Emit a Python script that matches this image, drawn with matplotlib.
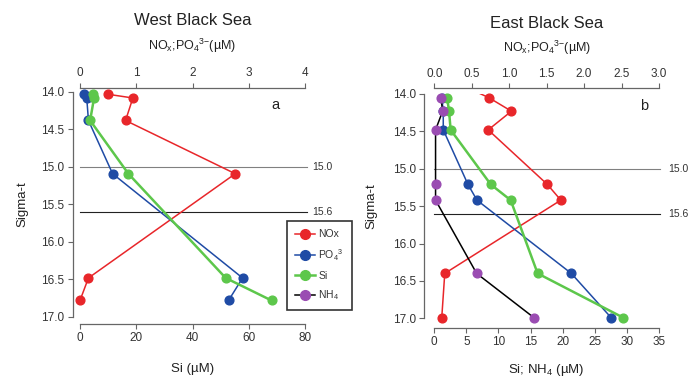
import matplotlib
matplotlib.use("Agg")
import matplotlib.pyplot as plt
from matplotlib.lines import Line2D
from matplotlib.transforms import blended_transform_factory

plt.rcParams['font.family'] = ['Liberation Sans', 'DejaVu Sans']
plt.rcParams['mathtext.fontset'] = 'custom'
plt.rcParams['mathtext.rm'] = 'Liberation Sans'
plt.rcParams['mathtext.it'] = 'Liberation Sans'

# ---- West Black Sea ----
west_sigma = [14.03, 14.08, 14.38, 15.09, 16.48, 16.78]
west_nox = [0.49, 0.94, 0.81, 2.76, 0.15, 0.0]
west_po4 = [0.08, 0.12, 0.15, 0.58, 2.89, 2.64]
west_si = [4.5, 5.0, 3.6, 17.2, 51.8, 68.1]

# ---- East Black Sea ----
east_sigma_nox = [13.85, 14.05, 14.23, 14.48, 15.21, 15.42, 16.40, 16.99]
east_nox = [0.30, 0.73, 1.03, 0.72, 1.51, 1.69, 0.14, 0.10]
east_sigma = [14.05, 14.23, 14.48, 15.21, 15.42, 16.40, 16.99]
east_po4 = [0.10, 0.12, 0.12, 0.45, 0.57, 1.83, 2.36]
east_si = [2.0, 2.3, 2.55, 8.8, 11.9, 16.1, 29.4]
east_nh4 = [1.04, 1.3, 0.2, 0.2, 0.2, 6.6, 15.5]

sigma_ticks = [14.0, 14.5, 15.0, 15.5, 16.0, 16.5, 17.0]
ref_lines = [15.0, 15.6]
ref_labels = ["15.0", "15.6"]
ref_colors = ["#808080", "#222222"]

west_top_ticks = [0, 1, 2, 3, 4]
west_bottom_ticks = [0, 20, 40, 60, 80]
east_top_ticks = [0.0, 0.5, 1.0, 1.5, 2.0, 2.5, 3.0]
east_bottom_ticks = [0, 5, 10, 15, 20, 25, 30, 35]

RED = "#E8262A"
BLUE = "#1F4BA5"
GREEN = "#5DC74B"
PURPLE = "#9A4CB2"
SPINE = "#666666"
TXT = "#333333"
MS = 6.3

fig = plt.figure(figsize=(6.89, 3.81), dpi=100)
fig.patch.set_facecolor("white")


def style_axes(ax, top, yoff, boff, toff):
    ax.spines["right"].set_visible(False)
    ax.spines["top"].set_visible(False)
    for s in ["right", "left", "bottom"]:
        top.spines[s].set_visible(False)
    ax.spines["left"].set_position(("outward", yoff))
    ax.spines["bottom"].set_position(("outward", boff))
    top.spines["top"].set_position(("outward", toff))
    for sp in [ax.spines["left"], ax.spines["bottom"], top.spines["top"]]:
        sp.set_color(SPINE)
        sp.set_linewidth(0.9)
    ax.tick_params(axis="both", direction="out", length=3.5, width=0.8,
                   color=SPINE, labelsize=8.5, labelcolor=TXT, pad=2.5)
    top.tick_params(axis="x", direction="out", length=3.5, width=0.8,
                    color=SPINE, labelsize=8.5, labelcolor=TXT, pad=2.5)
    ax.set_facecolor("none")
    top.set_facecolor("none")


def draw_panel(rect, title, letter, top_ticks, top_fmt, bottom_ticks,
               bottom_label, ylab_x, offs, line_end, lab_x):
    ax = fig.add_axes(rect)
    top = ax.twiny()
    ax.set_ylim(17.0, 14.0)
    ax.set_xlim(bottom_ticks[0], bottom_ticks[-1])
    top.set_xlim(top_ticks[0], top_ticks[-1])
    style_axes(ax, top, *offs)
    ax.set_yticks(sigma_ticks)
    ax.set_yticklabels([f"{v:.1f}" for v in sigma_ticks])
    ax.set_xticks(bottom_ticks)
    ax.set_xticklabels([str(v) for v in bottom_ticks])
    top.set_xticks(top_ticks)
    top.set_xticklabels([top_fmt.format(v) for v in top_ticks])
    ax.spines["left"].set_bounds(14.0, 17.0)
    ax.spines["bottom"].set_bounds(bottom_ticks[0], bottom_ticks[-1])
    top.spines["top"].set_bounds(top_ticks[0], top_ticks[-1])

    ax.set_ylabel("Sigma-t", fontsize=9.5, color="#222222")
    ax.yaxis.set_label_coords(ylab_x, 0.5)
    ax.text(0.5, -0.232, bottom_label, transform=ax.transAxes, ha="center",
            va="center", fontsize=9.5, color="#222222")
    ax.text(0.5, 1.205, r"NO$_\mathrm{x}$;PO$_4$$^{3\mathrm{-}}$(µM)",
            transform=ax.transAxes, ha="center", va="center", fontsize=9,
            color="#222222")
    ax.text(0.5, 1.316, title, transform=ax.transAxes, ha="center",
            va="center", fontsize=12, color="#222222")
    ax.text(letter[1], letter[2], letter[0], transform=ax.transAxes,
            ha="center", va="center", fontsize=10.5, color="#222222")

    trans = blended_transform_factory(ax.transAxes, ax.transData)
    for y, lab, c in zip(ref_lines, ref_labels, ref_colors):
        ax.plot([0, line_end], [y, y], transform=trans, color=c, lw=0.8,
                clip_on=False, zorder=1)
        ax.text(lab_x, y, lab, transform=trans, ha="left", va="center",
                fontsize=7.5, color=TXT)
    return ax, top


def series(target, xs, ys, color, lw, transform=None, line_color=None,
           z=3, skip=0):
    kw = {}
    if transform is not None:
        kw["transform"] = transform
    target.plot(xs, ys, color=line_color or color, lw=lw, zorder=z,
                clip_on=True, **kw)
    target.plot(xs[skip:], ys[skip:], ls="none", marker="o", ms=MS,
                mfc=color, mec=color, zorder=z + 0.5, clip_on=False, **kw)


# West panel
axW, topW = draw_panel([0.1161, 0.168, 0.3266, 0.5906], "West Black Sea",
                       ("a", 0.867, 0.942), west_top_ticks, "{:g}",
                       west_bottom_ticks, "Si (µM)", -0.228, (5.3, 5.0, 3.0),
                       1.01, 1.03)
series(topW, west_nox, west_sigma, RED, 1.1, z=3)
series(topW, west_po4, west_sigma, BLUE, 1.1, z=4)
series(topW, west_si, west_sigma, GREEN, 1.8, transform=axW.transData, z=5)

# East panel
axE, topE = draw_panel([0.6303, 0.1646, 0.3261, 0.5887], "East Black Sea",
                       ("b", 0.933, 0.946), east_top_ticks, "{:.1f}",
                       east_bottom_ticks, "Si; NH$_4$ (µM)", -0.255,
                       (7.2, 6.8, 4.2), 1.004, 1.04)
series(topE, east_nox, east_sigma_nox, RED, 1.1, z=3, skip=1)
series(topE, east_po4, east_sigma, BLUE, 1.1, z=4)
series(topE, east_si, east_sigma, GREEN, 1.8, transform=axE.transData, z=5)
series(topE, east_nh4, east_sigma, PURPLE, 1.1, transform=axE.transData,
       line_color="black", z=6)

# Legend
handles = [
    Line2D([], [], color=RED, lw=1.1, marker="o", ms=MS + 0.7),
    Line2D([], [], color=BLUE, lw=1.1, marker="o", ms=MS + 0.7),
    Line2D([], [], color=GREEN, lw=1.8, marker="o", ms=MS + 0.7),
    Line2D([], [], color="black", lw=1.1, marker="o", ms=MS + 0.7,
           mfc=PURPLE, mec=PURPLE),
]
labels = ["NOx", "PO$_4$$^3$", "Si", "NH$_4$"]
leg = fig.legend(handles, labels, loc="upper left",
                 bbox_to_anchor=(0.4165, 0.42), frameon=True, fancybox=False,
                 fontsize=7.5, handlelength=1.9, handletextpad=0.3,
                 labelspacing=0.75, borderpad=0.8, borderaxespad=0.0)
leg.get_frame().set_edgecolor("black")
leg.get_frame().set_linewidth(1.2)
for t in leg.get_texts():
    t.set_color(TXT)

fig.savefig("out.png", dpi=100, facecolor="white")
